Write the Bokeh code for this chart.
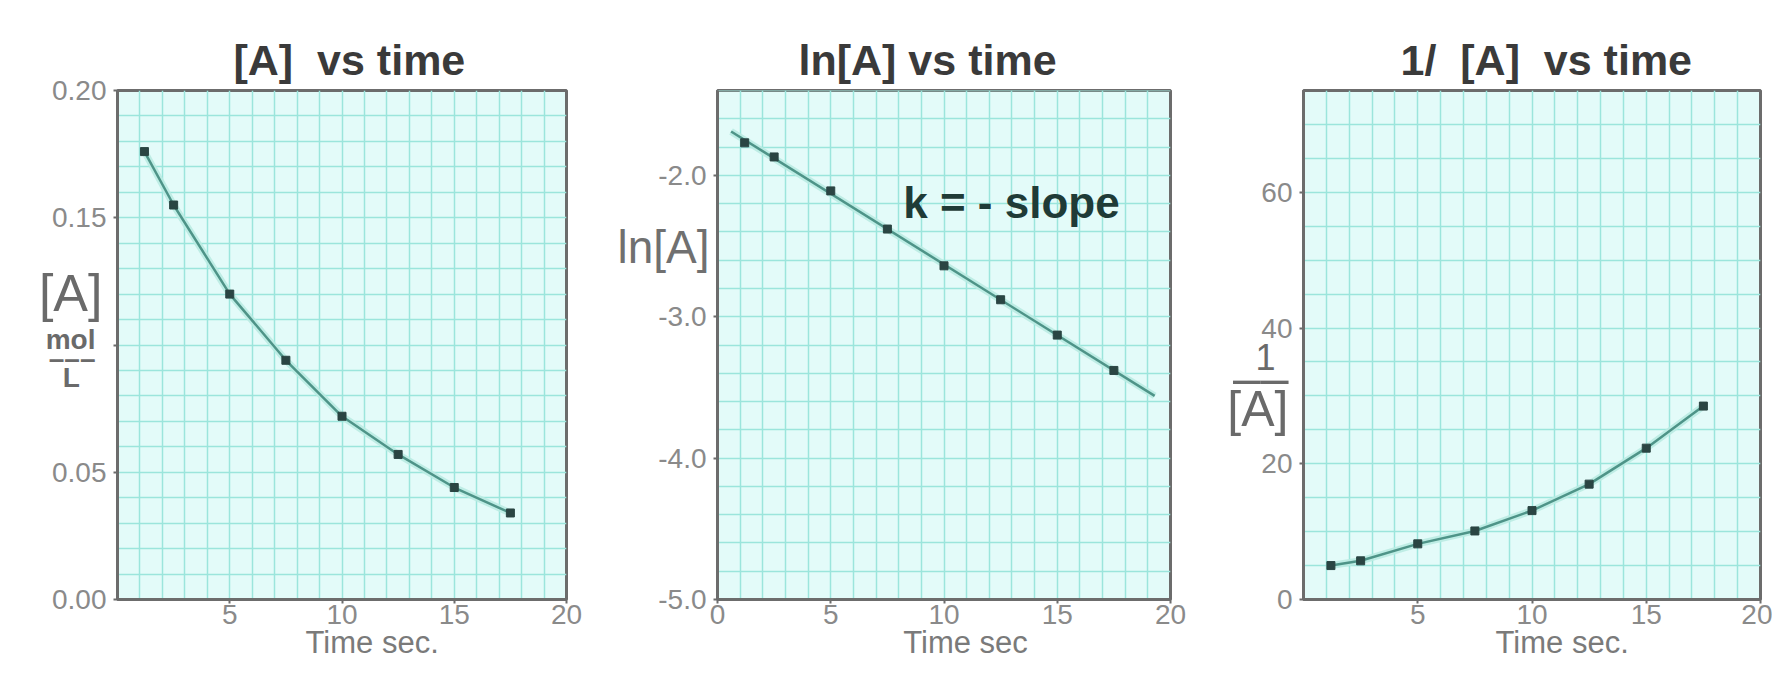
from bokeh.plotting import figure
from bokeh.models import Range1d, FixedTicker, SingleIntervalTicker, Label, Title, LinearAxis
from bokeh.layouts import row
from bokeh.embed import file_html
from bokeh.resources import INLINE
import numpy as np

# ---------------- data ----------------
time_s = [1.2, 2.5, 5.0, 7.5, 10.0, 12.5, 15.0, 17.5]
conc_A = [0.176, 0.155, 0.120, 0.094, 0.072, 0.057, 0.044, 0.034]
ln_A = [-1.77, -1.87, -2.11, -2.38, -2.64, -2.88, -3.13, -3.38]
inv_A = [5.0, 5.7, 8.2, 10.1, 13.1, 17.0, 22.3, 28.5]
ln_fit_range = [0.6, 19.3]

NB = "\u00a0"
titles = ["[A]" + NB + " vs time", "ln[A] vs time", "1/" + NB + " [A]" + NB + " vs time"]
x_labels = ["Time sec.", "Time sec", "Time sec."]

x1_ticks = [5, 10, 15, 20]
x2_ticks = [0, 5, 10, 15, 20]
x3_ticks = [5, 10, 15, 20]
y1_ticks = [0.0, 0.05, 0.10, 0.15, 0.20]
y1_tick_labels = ["0.00", "0.05", "", "0.15", "0.20"]
y2_ticks = [-5.0, -4.0, -3.0, -2.0]
y2_tick_labels = ["-5.0", "-4.0", "-3.0", "-2.0"]
y3_ticks = [0, 20, 40, 60]
y3_tick_labels = ["0", "20", "40", "60"]

# ---------------- styling ----------------
FONT = "Liberation Sans"
BG = "#e3fbf9"
GRID = "#9be5dc"
FRAME = "#6c6c6c"
TICK_TXT = "#8a8a8a"
LINE = "#4e9488"
HALO = "#b9ebe2"
MARK = "#2a4543"
LABEL_C = "#6a6a6a"
H = 669
TOP, BOTTOM = 90, 70


def make_fig(width, bl, br, xr, yr, xticks, yticks, ylabels, grid_dx, grid_dy,
             title, title_offset, xlabel, xlabel_pad):
    p = figure(width=width, height=H, x_range=Range1d(*xr), y_range=Range1d(*yr),
               output_backend="svg", toolbar_location=None,
               min_border_left=bl, min_border_right=br,
               min_border_top=TOP, min_border_bottom=BOTTOM,
               background_fill_color=BG, border_fill_color="white",
               outline_line_color=FRAME, outline_line_width=3)
    p.title = Title(text=title, align="left", offset=title_offset,
                    text_font=FONT, text_font_size="43px", text_font_style="bold",
                    text_color="#3a3a3a", standoff=14)
    p.xgrid.ticker = SingleIntervalTicker(interval=grid_dx)
    p.ygrid.ticker = SingleIntervalTicker(interval=grid_dy)
    for g in (p.xgrid, p.ygrid):
        g.grid_line_color = GRID
        g.grid_line_width = 1.5
    p.xaxis.ticker = FixedTicker(ticks=xticks)
    p.yaxis.ticker = FixedTicker(ticks=yticks)
    p.yaxis.major_label_overrides = {t: l for t, l in zip(yticks, ylabels)}
    p.xaxis.axis_label = NB * xlabel_pad + xlabel
    p.xaxis.axis_label_text_font = FONT
    p.xaxis.axis_label_text_font_size = "31px"
    p.xaxis.axis_label_text_font_style = "normal"
    p.xaxis.axis_label_text_color = "#7a7a7a"
    p.xaxis.axis_label_standoff = -2
    for ax in (p.xaxis, p.yaxis):
        ax.axis_line_color = FRAME
        ax.axis_line_width = 3
        ax.major_tick_line_color = FRAME
        ax.major_tick_line_width = 2
        ax.major_tick_out = 4
        ax.major_tick_in = 0
        ax.minor_tick_out = 0
        ax.minor_tick_in = 0
        ax.major_label_text_font = FONT
        ax.major_label_text_font_size = "28px"
        ax.major_label_text_color = TICK_TXT
        ax.major_label_standoff = 7
    p.xaxis.major_label_standoff = 1
    return p


def text_axis(p, positions, texts, size, standoff, style="normal", color=LABEL_C):
    """A bare extra left axis used only to carry a y-axis caption."""
    ax = LinearAxis(ticker=FixedTicker(ticks=positions),
                    major_label_overrides={t: s for t, s in zip(positions, texts)},
                    axis_line_color=None, major_tick_line_color=None,
                    minor_tick_line_color=None, major_tick_out=0, major_tick_in=0,
                    minor_tick_out=0, minor_tick_in=0,
                    major_label_standoff=standoff,
                    major_label_text_font=FONT,
                    major_label_text_font_size=f"{size}px",
                    major_label_text_font_style=style,
                    major_label_text_color=color)
    p.add_layout(ax, "left")


def curve(p, xs, ys):
    p.line(xs, ys, line_color=HALO, line_width=7, line_alpha=0.9)
    p.line(xs, ys, line_color=LINE, line_width=2.5)
    p.scatter(xs, ys, marker="square", size=8, fill_color=MARK, line_color=MARK)


# ---------------- panel 1: [A] vs time ----------------
p1 = make_fig(608, 117, 42, (0, 20), (0.0, 0.20), x1_ticks, y1_ticks, y1_tick_labels,
              1, 0.01, titles[0], 116, x_labels[0], 7)
curve(p1, time_s, conc_A)
text_axis(p1, [0.1205], ["[A]"], 52, -53)
text_axis(p1, [0.1022, 0.0948, 0.0872], [NB * 2 + "mol", "\u2013\u2013\u2013", "L" + NB * 2],
          28, -60, style="bold")

# ---------------- panel 2: ln[A] vs time ----------------
p2 = make_fig(610, 109, 48, (0, 20), (-5.0, -1.4), x2_ticks, y2_ticks, y2_tick_labels,
              1, 0.2, titles[1], 81, x_labels[1], 5)
slope, intercept = np.polyfit(time_s, ln_A, 1)
fit_x = list(ln_fit_range)
fit_y = [slope * v + intercept for v in fit_x]
p2.line(fit_x, fit_y, line_color=HALO, line_width=7, line_alpha=0.9)
p2.line(fit_x, fit_y, line_color=LINE, line_width=2.5)
p2.scatter(time_s, ln_A, marker="square", size=8, fill_color=MARK, line_color=MARK)
p2.add_layout(Label(x=8.2, y=-2.19, text="k = - slope", text_font=FONT,
                    text_font_size="44px", text_color="#1f3b37",
                    text_font_style="bold", text_align="left", text_baseline="middle"))
text_axis(p2, [-2.51], ["ln[A]"], 46, -54, color="#707070")

# ---------------- panel 3: 1/[A] vs time ----------------
p3 = make_fig(554, 85, 12, (0, 20), (0, 75), x3_ticks, y3_ticks, y3_tick_labels,
              1, 5, titles[2], 97, x_labels[2], 7)
curve(p3, time_s, inv_A)
text_axis(p3, [28.1, 32.7], ["[A]", "\u2013\u2013"], 50, -30)
text_axis(p3, [35.6], [NB * 3 + "1"], 36, -51)

layout = row(p1, p2, p3)
open("out.html", "w").write(file_html(layout, INLINE))
